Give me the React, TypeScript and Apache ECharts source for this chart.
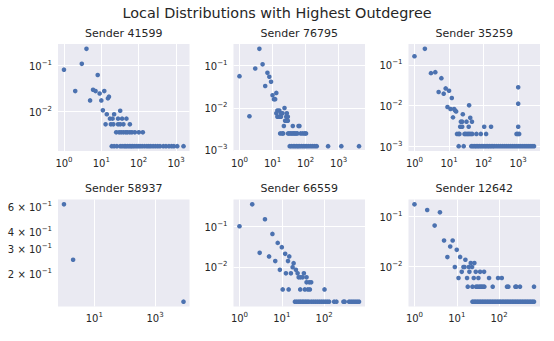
import React, { useEffect, useRef } from 'react';
import * as echarts from 'echarts';

const suptitle = 'Local Distributions with Highest Outdegree';

// [degree, probability] pairs
const sender41599: [number, number][] = [
  [1, 0.0818], [2, 0.0277], [3, 0.110], [4, 0.234], [5, 0.0173], [6, 0.0296], [7, 0.0277], [8, 0.0626],
  [9, 0.0246], [10, 0.0173], [11, 0.0105], [12, 0.0277], [13, 0.00517], [14, 0.00862], [15, 0.0192], [16, 0.0209],
  [17, 0.0069], [18, 0.00517], [20, 0.0069], [21, 0.00517], [22, 0.00862], [28, 0.0069], [28, 0.00517], [32, 0.0103],
  [32, 0.00517], [36, 0.0069], [39, 0.00517], [47, 0.0069], [58, 0.00517],
  [25, 0.00345], [30, 0.00345], [34, 0.00345], [39, 0.00345], [45, 0.00345], [50, 0.00345], [58, 0.00345],
  [66, 0.00345], [79, 0.00345], [101, 0.00345], [129, 0.00345],
  [19, 0.00172], [22, 0.00172], [26, 0.00172], [32, 0.00172], [36, 0.00172], [41, 0.00172], [45, 0.00172],
  [50, 0.00172], [56, 0.00172], [62, 0.00172], [68, 0.00172], [76, 0.00172], [86, 0.00172], [97, 0.00172],
  [109, 0.00172], [124, 0.00172], [143, 0.00172], [165, 0.00172], [186, 0.00172], [210, 0.00172], [243, 0.00172],
  [280, 0.00172], [323, 0.00172], [372, 0.00172], [457, 0.00172], [537, 0.00172], [646, 0.00172], [760, 0.00172],
  [874, 0.00172], [1077, 0.00172], [1585, 0.00172],
];

const sender76795: [number, number][] = [
  [1, 0.056], [2, 0.0063], [3, 0.085], [4, 0.249], [5, 0.107], [6, 0.0328], [7, 0.0673], [8, 0.0542],
  [9, 0.0414], [10, 0.0198], [11, 0.016], [12, 0.016], [13, 0.0225],
  [14, 0.0086], [16, 0.0086], [13, 0.00738], [18, 0.00738], [20, 0.00738], [14, 0.00615], [16, 0.00615],
  [18, 0.00615], [23, 0.00984], [27, 0.00738], [26, 0.00615], [29, 0.00615], [24, 0.00492], [27, 0.00492],
  [29, 0.00492],
  [22, 0.00369], [41, 0.00369], [61, 0.00369], [65, 0.00369],
  [17, 0.00246], [19.5, 0.00246], [21, 0.00246], [29.5, 0.00246], [32, 0.00246], [35.5, 0.00246], [39, 0.00246],
  [43, 0.00246], [47, 0.00246], [51.5, 0.00246], [56.5, 0.00246], [71, 0.00246], [82, 0.00246], [94, 0.00246],
  [103, 0.00246],
  [33, 0.00123], [37, 0.00123], [42, 0.00123], [47, 0.00123], [53, 0.00123], [59, 0.00123], [66, 0.00123],
  [75, 0.00123], [85, 0.00123], [96, 0.00123], [108, 0.00123], [124, 0.00123], [143, 0.00123], [164, 0.00123],
  [189, 0.00123], [217, 0.00123], [478, 0.00123], [1202, 0.00123], [4120, 0.00123],
];

const sender35259: [number, number][] = [
  [1, 0.163], [2, 0.247], [3, 0.0625], [4, 0.066], [5, 0.0214], [6, 0.047], [7, 0.0195], [8, 0.0263],
  [9, 0.0092], [10, 0.0231], [11, 0.0082], [12, 0.0153], [13, 0.0051], [14, 0.0082], [15, 0.0075], [16, 0.0071],
  [25, 0.0061], [38, 0.0101], [41, 0.005], [1000, 0.0279], [1000, 0.0111], [1000, 0.003],
  [22, 0.004], [24, 0.004], [32, 0.004], [46, 0.004],
  [21, 0.003], [24, 0.003], [37, 0.003], [104, 0.003], [164, 0.003],
  [17, 0.002], [19, 0.002], [20, 0.002], [28, 0.002], [30, 0.002], [33, 0.002], [36, 0.002], [39, 0.002],
  [43, 0.002], [47, 0.002], [62, 0.002], [83, 0.002], [118, 0.002], [894, 0.002], [977, 0.002], [1067, 0.002],
  [19, 0.001], [26.5, 0.001], [44, 0.001], [49, 0.001], [55, 0.001], [61, 0.001], [68, 0.001], [76, 0.001],
  [85, 0.001], [95, 0.001], [106, 0.001], [118, 0.001], [132, 0.001], [147, 0.001], [164, 0.001], [184, 0.001],
  [205, 0.001], [234, 0.001], [267, 0.001], [304, 0.001], [347, 0.001], [396, 0.001], [452, 0.001], [516, 0.001],
  [589, 0.001], [672, 0.001], [766, 0.001], [874, 0.001], [998, 0.001], [1138, 0.001], [1300, 0.001],
  [1483, 0.001], [1692, 0.001], [1930, 0.001], [2203, 0.001], [2513, 0.001], [2868, 0.001],
];

const sender58937: [number, number][] = [[1, 0.625], [2, 0.25], [8700, 0.125]];

const sender66559: [number, number][] = [
  [1, 0.1], [2, 0.347], [3, 0.0221], [4, 0.149], [5, 0.018], [6, 0.0648], [7, 0.0138], [8, 0.0389],
  [9, 0.0084], [10, 0.0305], [12, 0.0209], [14, 0.0138], [15, 0.018], [18, 0.0098], [19, 0.0123], [21.5, 0.0084],
  [12.5, 0.0069], [16.4, 0.0069], [23.6, 0.0069], [33.2, 0.0069],
  [25, 0.0055], [27.7, 0.0055], [31, 0.0055], [38.4, 0.0055],
  [38.4, 0.00414], [44.4, 0.00414], [49.4, 0.00414],
  [10.5, 0.00276], [14.5, 0.00276], [27.2, 0.00276], [35, 0.00276], [41.3, 0.00276], [46, 0.00276], [102, 0.00276],
  [20.4, 0.00138], [22.7, 0.00138], [25.3, 0.00138], [27.7, 0.00138], [30.4, 0.00138], [33.2, 0.00138],
  [36.4, 0.00138], [39.8, 0.00138], [43.6, 0.00138], [49.4, 0.00138], [55, 0.00138], [61.4, 0.00138],
  [68.4, 0.00138], [76.3, 0.00138], [85, 0.00138], [94.7, 0.00138], [105.6, 0.00138], [117.7, 0.00138],
  [131, 0.00138], [172, 0.00138], [195, 0.00138], [285, 0.00138], [306, 0.00138], [388, 0.00138],
  [432, 0.00138], [481, 0.00138], [536, 0.00138], [598, 0.00138], [666, 0.00138],
];

const sender12642: [number, number][] = [
  [1, 0.177], [2, 0.136], [3, 0.0659], [4, 0.122], [5, 0.0329], [6, 0.0152], [7, 0.0249], [8, 0.0329],
  [9, 0.00956], [10, 0.0213], [11, 0.00574], [12, 0.0153], [16, 0.0134],
  [21.4, 0.0115], [26.1, 0.0115],
  [14.4, 0.00956], [15.2, 0.00956], [19.2, 0.00956], [23, 0.00956],
  [13.1, 0.00765], [19.9, 0.00765], [28.1, 0.00765], [35.6, 0.00765], [44.2, 0.00765],
  [17.5, 0.00574], [25.2, 0.00574], [32.5, 0.00574], [58, 0.00574], [94.7, 0.00574], [116, 0.00574],
  [18.2, 0.00383], [23.5, 0.00383], [28.6, 0.00383], [30.8, 0.00383], [33.7, 0.00383], [36.2, 0.00383],
  [39, 0.00383], [41.9, 0.00383], [45, 0.00383], [70.8, 0.00383], [154, 0.00383], [166, 0.00383],
  [243, 0.00383], [257, 0.00383], [313, 0.00383], [671, 0.00383],
  [23.5, 0.00191], [25.7, 0.00191], [28.1, 0.00191], [30.8, 0.00191], [33.7, 0.00191], [36.9, 0.00191],
  [40.4, 0.00191], [44.2, 0.00191], [48.4, 0.00191], [53, 0.00191], [58, 0.00191], [63.5, 0.00191],
  [69.6, 0.00191], [76.2, 0.00191], [83.4, 0.00191], [91.3, 0.00191], [100, 0.00191], [109, 0.00191],
  [120, 0.00191], [131, 0.00191], [144, 0.00191], [157, 0.00191], [172, 0.00191], [189, 0.00191],
  [207, 0.00191], [226, 0.00191], [248, 0.00191], [271, 0.00191], [297, 0.00191], [325, 0.00191],
  [356, 0.00191], [390, 0.00191], [427, 0.00191], [467, 0.00191], [512, 0.00191], [560, 0.00191],
  [613, 0.00191], [671, 0.00191],
];

const titles = ['Sender 41599', 'Sender 76795', 'Sender 35259', 'Sender 58937', 'Sender 66559', 'Sender 12642'];
const panelData = [sender41599, sender76795, sender35259, sender58937, sender66559, sender12642];
const xTickValues = [
  [1, 10, 100, 1000], [1, 10, 100, 1000], [1, 10, 100, 1000], [10, 1000], [1, 10, 100], [1, 10, 100],
];
const yTickValues = [
  [0.1, 0.01], [0.1, 0.01, 0.001], [0.1, 0.01, 0.001], [0.6, 0.4, 0.3, 0.2], [0.1, 0.01], [0.1, 0.01],
];
// major (decade) ticks get grid lines; minor-only axes do not
const yMajor = [true, true, true, false, true, true];

const FONT = '"DejaVu Sans", Verdana, sans-serif';
const TXT = '#262626';
const COLS = [58, 233.5, 408.5];
const ROWS = [44, 199.5];
const PW = 131.5;
const PH = 107;

const fmt = (lv: number) => {
  const e0 = Math.floor(lv + 1e-9);
  let m = Math.round(Math.pow(10, lv - e0));
  let e = e0;
  if (m === 10) { m = 1; e = e0 + 1; }
  const es = e < 0 ? `\u2212${-e}` : `${e}`;
  return m === 1 ? `{b|10}{s|${es}}` : `{b|${m} × 10}{s|${es}}`;
};
const rich = {
  b: { fontSize: 10, lineHeight: 12, verticalAlign: 'bottom', color: TXT, fontFamily: FONT },
  s: { fontSize: 7, lineHeight: 7, verticalAlign: 'top', padding: [0, 0, 6.5, 0], color: TXT, fontFamily: FONT },
};
const limits = (vals: number[]) => {
  const l = vals.map((v) => Math.log10(v));
  const lo = Math.min(...l);
  const hi = Math.max(...l);
  const m = (hi - lo) * 0.05;
  return [lo - m, hi + m];
};

export default function App() {
  const ref = useRef<HTMLDivElement>(null);
  useEffect(() => {
    if (!ref.current) return;
    const chart = echarts.init(ref.current, null, { renderer: 'svg' });
    const grids = panelData.map((_, i) => ({
      left: COLS[i % 3], top: ROWS[Math.floor(i / 3)], width: PW, height: PH,
      show: true, backgroundColor: '#EAEAF2', borderWidth: 0, containLabel: false, outerBoundsMode: 'none',
    }));
    const xAxes = panelData.map((d, i) => {
      const [mn, mx] = limits(d.map((p) => p[0]));
      const ticks = xTickValues[i].map((v) => Math.log10(v));
      return {
        type: 'value', gridIndex: i, min: mn, max: mx,
        axisLine: { show: false },
        axisTick: { show: false, customValues: ticks },
        axisLabel: { customValues: ticks, formatter: fmt, color: TXT, fontSize: 10, margin: 5, fontFamily: FONT, rich },
        splitLine: { show: true, lineStyle: { color: '#ffffff', width: 1 } },
      };
    });
    const yAxes = panelData.map((d, i) => {
      const [mn, mx] = limits(d.map((p) => p[1]));
      const ticks = yTickValues[i].map((v) => Math.log10(v));
      return {
        type: 'value', gridIndex: i, min: mn, max: mx,
        axisLine: { show: false },
        axisTick: { show: false, customValues: ticks },
        axisLabel: { customValues: ticks, formatter: fmt, color: TXT, fontSize: 10, margin: 6, fontFamily: FONT, rich },
        splitLine: { show: yMajor[i], lineStyle: { color: '#ffffff', width: 1 } },
      };
    });
    const series = panelData.map((d, i) => ({
      type: 'scatter', xAxisIndex: i, yAxisIndex: i, silent: true,
      data: d.map(([x, y]) => [Math.log10(x), Math.log10(y)]),
      symbol: 'circle', symbolSize: 4.6,
      itemStyle: { color: '#4C72B0', opacity: 1 },
    }));
    const graphic: any[] = titles.map((t, i) => ({
      type: 'text', x: COLS[i % 3] + PW / 2, y: ROWS[Math.floor(i / 3)] - 11, silent: true,
      style: {
        text: t, fill: TXT, fontSize: 11, fontFamily: FONT,
        align: 'center', verticalAlign: 'middle', textAlign: 'center', textVerticalAlign: 'middle',
      },
    }));
    graphic.push({
      type: 'text', x: 277, y: 12.5, silent: true,
      style: {
        text: suptitle, fill: TXT, fontSize: 14.4, fontFamily: FONT,
        align: 'center', verticalAlign: 'middle', textAlign: 'center', textVerticalAlign: 'middle',
      },
    });
    chart.setOption({
      animation: false,
      backgroundColor: '#ffffff',
      textStyle: { fontFamily: FONT },
      grid: grids, xAxis: xAxes, yAxis: yAxes, series, graphic,
    });
    return () => chart.dispose();
  }, []);
  return <div ref={ref} style={{ position: 'absolute', left: 0, top: 0, width: 554, height: 341 }} />;
}
